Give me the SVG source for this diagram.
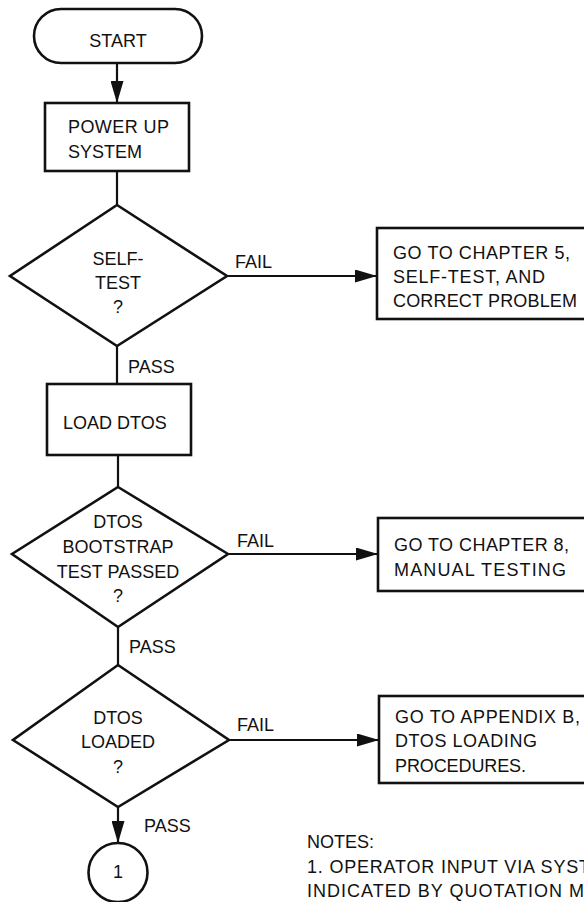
<svg xmlns="http://www.w3.org/2000/svg" width="584" height="902" viewBox="0 0 584 902">
<defs>
<style>
.shape{fill:#fff;stroke:#111;stroke-width:2.6}
.conn{fill:none;stroke:#111;stroke-width:2.2}
text{font-family:"Liberation Sans",Arial,Helvetica,sans-serif;font-size:18px;fill:#111}
.c{text-anchor:middle}
</style>
<marker id="arr" viewBox="0 0 22 13" markerWidth="22" markerHeight="13" refX="22" refY="6.5" orient="auto" markerUnits="userSpaceOnUse">
<path d="M0,0 L22,6.5 L0,13 Z" fill="#111"/>
</marker>
</defs>
<rect width="584" height="902" fill="#fff"/>
<g id="connectors">
<line class="conn" x1="117" y1="63" x2="117" y2="103" marker-end="url(#arr)"/>
<line class="conn" x1="117" y1="171" x2="117" y2="205"/>
<line class="conn" x1="227" y1="276" x2="377" y2="276" marker-end="url(#arr)"/>
<line class="conn" x1="117" y1="346" x2="117" y2="384"/>
<line class="conn" x1="118" y1="455" x2="118" y2="487"/>
<line class="conn" x1="228" y1="554" x2="378" y2="554" marker-end="url(#arr)"/>
<line class="conn" x1="118" y1="627" x2="118" y2="665"/>
<line class="conn" x1="229" y1="740" x2="379" y2="740" marker-end="url(#arr)"/>
<line class="conn" x1="118" y1="807" x2="118" y2="843" marker-end="url(#arr)"/>
<text x="235" y="268">FAIL</text>
<text x="128" y="373">PASS</text>
<text x="237" y="547">FAIL</text>
<text x="129" y="653">PASS</text>
<text x="237" y="731">FAIL</text>
<text x="144" y="832">PASS</text>
</g>
<g id="start">
<rect class="shape" x="34" y="9" width="168" height="54" rx="27"/>
<text class="c" x="118" y="47">START</text>
</g>
<g id="power-up">
<rect class="shape" x="45" y="103" width="144" height="68"/>
<text x="68" y="133" textLength="101">POWER UP</text>
<text x="68" y="158">SYSTEM</text>
</g>
<g id="self-test">
<polygon class="shape" points="117,205 227,276 117,346 10,276"/>
<text class="c" x="118" y="265">SELF-</text>
<text class="c" x="118" y="289">TEST</text>
<text class="c" x="118" y="313">?</text>
</g>
<g id="chapter5">
<rect class="shape" x="377" y="228" width="220" height="91"/>
<text x="393" y="259" textLength="177">GO TO CHAPTER 5,</text>
<text x="393" y="283" textLength="152">SELF-TEST, AND</text>
<text x="393" y="307" textLength="184">CORRECT PROBLEM</text>
</g>
<g id="load-dtos">
<rect class="shape" x="47" y="384" width="144" height="71"/>
<text x="63" y="429">LOAD DTOS</text>
</g>
<g id="bootstrap">
<polygon class="shape" points="118,487 228,554 118,627 12,554"/>
<text class="c" x="118" y="528">DTOS</text>
<text class="c" x="118" y="553">BOOTSTRAP</text>
<text class="c" x="118" y="578">TEST PASSED</text>
<text class="c" x="118" y="602">?</text>
</g>
<g id="chapter8">
<rect class="shape" x="378" y="518" width="220" height="73"/>
<text x="394" y="551" textLength="175">GO TO CHAPTER 8,</text>
<text x="394" y="576" textLength="172">MANUAL TESTING</text>
</g>
<g id="loaded">
<polygon class="shape" points="118,665 229,740 118,807 13,740"/>
<text class="c" x="118" y="724">DTOS</text>
<text class="c" x="118" y="748">LOADED</text>
<text class="c" x="118" y="773">?</text>
</g>
<g id="appendixb">
<rect class="shape" x="379" y="696" width="220" height="87"/>
<text x="395" y="723" textLength="185">GO TO APPENDIX B,</text>
<text x="395" y="747" textLength="142">DTOS LOADING</text>
<text x="395" y="772" textLength="131">PROCEDURES.</text>
</g>
<g id="connector-1">
<circle class="shape" cx="118" cy="872.5" r="29.5"/>
<text class="c" x="118" y="878">1</text>
</g>
<g id="notes">
<text x="307" y="848">NOTES:</text>
<text x="307" y="873" textLength="283">1. OPERATOR INPUT VIA SYST</text>
<text x="307" y="897" textLength="277">INDICATED BY QUOTATION M</text>
</g>
</svg>
